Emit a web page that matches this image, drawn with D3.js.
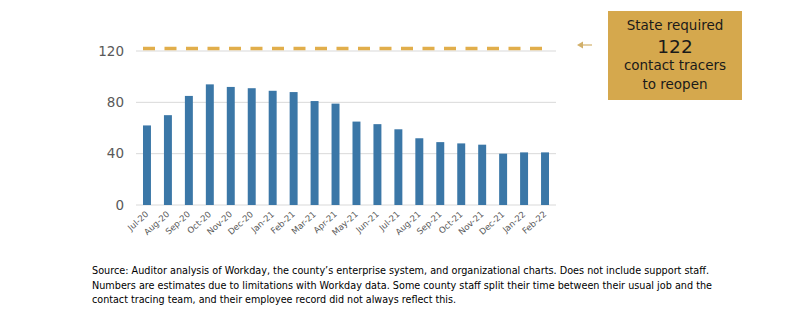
<!DOCTYPE html>
<html><head><meta charset="utf-8">
<script src="https://cdn.jsdelivr.net/npm/d3@7"></script>
<style>body{margin:0;background:#fff}svg{display:block}</style>
</head><body>
<svg id="chart" width="800" height="321"></svg>
<script>
const categories = ["Jul-20","Aug-20","Sep-20","Oct-20","Nov-20","Dec-20","Jan-21","Feb-21","Mar-21","Apr-21","May-21","Jun-21","Jul-21","Aug-21","Sep-21","Oct-21","Nov-21","Dec-21","Jan-22","Feb-22"];
const tracers = [62,70,85,94,92,91,89,88,81,79,65,63,59,52,49,48,47,40,41,41];
const required = 122;
const yTicks = [0,40,80,120];
const annotationLines = ["State required","122","contact tracers","to reopen"];
const footnote = [
  "Source: Auditor analysis of Workday, the county\u2019s enterprise system, and organizational charts. Does not include support staff.",
  "Numbers are estimates due to limitations with Workday data. Some county staff split their time between their usual job and the",
  "contact tracing team, and their employee record did not always reflect this."
];

const svg = d3.select("#chart");
const font = "'DejaVu Sans', Verdana, sans-serif";
const x = d3.scaleBand().domain(categories).range([136.5, 555.5]).paddingInner(0.62).paddingOuter(0.31);
const y = d3.scaleLinear().domain([0,120]).range([205,51]);

// gridlines
svg.append("g").selectAll("line").data(yTicks).join("line")
  .attr("x1",136).attr("x2",556)
  .attr("y1",d=>y(d)).attr("y2",d=>y(d))
  .attr("stroke","#D9D9D9").attr("stroke-width",1);

// y axis labels
const yAxis = svg.append("g").attr("transform","translate(124,0)")
  .call(d3.axisLeft(y).tickValues(yTicks).tickSize(0).tickPadding(0));
yAxis.select(".domain").remove();
yAxis.selectAll("text").attr("font-family",font).attr("font-size",13.5).attr("fill","#595959");

// bars
svg.append("g").selectAll("rect").data(tracers).join("rect")
  .attr("x",(d,i)=>x(categories[i]))
  .attr("width",x.bandwidth())
  .attr("y",d=>y(d))
  .attr("height",d=>y(0)-y(d))
  .attr("fill","#3B77A7");

// x axis labels
const xAxis = svg.append("g").attr("transform","translate(0,205)")
  .call(d3.axisBottom(x).tickSize(0).tickPadding(0));
xAxis.select(".domain").remove();
xAxis.selectAll("text")
  .attr("font-family",font).attr("font-size",8.5).attr("fill","#595959")
  .attr("text-anchor","end")
  .attr("dy",null).attr("y",0)
  .attr("transform","translate(2,10) rotate(-42)");

// required dashed line
svg.append("line")
  .attr("x1",x(categories[0])).attr("x2",x(categories[categories.length-1])+x.bandwidth())
  .attr("y1",y(required)).attr("y2",y(required))
  .attr("stroke","#E1AE4B").attr("stroke-width",3.5)
  .attr("stroke-dasharray","12,9.5");

// arrow
const arrowY = 45;
svg.append("line").attr("x1",579).attr("x2",592).attr("y1",arrowY).attr("y2",arrowY)
  .attr("stroke","#D2B06A").attr("stroke-width",1.2);
svg.append("path").attr("d",`M577,${arrowY} L583,${arrowY-3.5} L583,${arrowY+3.5} Z`).attr("fill","#D2B06A");

// annotation box
svg.append("rect").attr("x",608).attr("y",11).attr("width",134).attr("height",89).attr("fill","#D5A84D");
const ann = svg.append("g").attr("font-family",font).attr("fill","#1A1A1A").attr("text-anchor","middle");
const annY = [30,52.5,70,89];
const annSize = [13.5,18.5,13.5,13.5];
ann.selectAll("text").data(annotationLines).join("text")
  .attr("x",675).attr("y",(d,i)=>annY[i]).attr("font-size",(d,i)=>annSize[i]).text(d=>d);

// footnote
const fnLen = [617,620,364];
svg.append("g").attr("font-family",font).attr("font-size",10.5).attr("fill","#000")
  .selectAll("text").data(footnote).join("text")
  .attr("x",92).attr("y",(d,i)=>274+i*14.5)
  .attr("textLength",(d,i)=>fnLen[i]).attr("lengthAdjust","spacingAndGlyphs")
  .text(d=>d);
</script>
</body></html>
